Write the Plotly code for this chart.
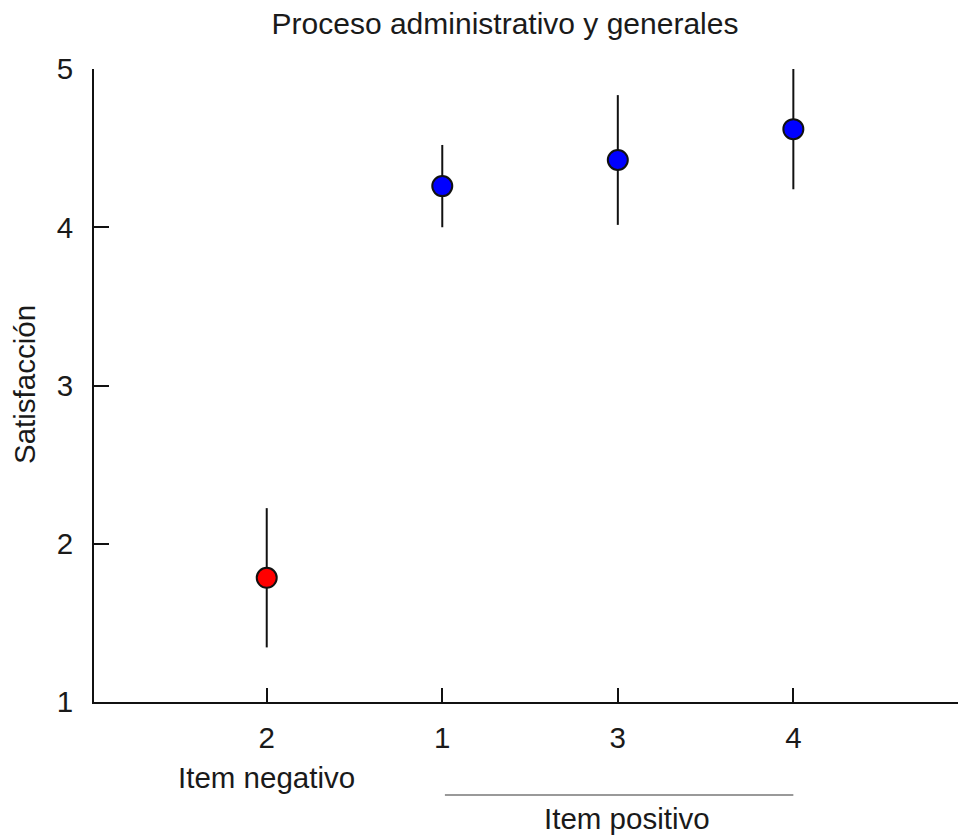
import plotly.graph_objects as go

# ---- data ----
items = ["2", "1", "3", "4"]
means = [1.785, 4.26, 4.425, 4.62]
errors = [0.44, 0.26, 0.41, 0.38]
groups = ["Item negativo", "Item positivo", "Item positivo", "Item positivo"]
group_colors = {"Item negativo": "#FF0000", "Item positivo": "#0000FF"}
title_text = "Proceso administrativo y generales"
y_title = "Satisfacción"
y_ticks = [1, 2, 3, 4, 5]

FONT = "Liberation Sans, Arial, sans-serif"
TXT = "#1a1a1a"
FS = 29.5

W, H = 958, 837
L, R, T, B = 94, 0, 69, 135
plot_h = H - T - B
plot_w = W - L - R


def py(px):
    """pixel row -> paper y"""
    return (H - B - px) / plot_h


def px_x(px):
    return (px - L) / plot_w


fig = go.Figure()
fig.add_trace(go.Scatter(
    x=items,
    y=means,
    mode="markers",
    error_y=dict(type="data", array=errors, visible=True, color="#111111",
                 thickness=2, width=0),
    marker=dict(size=20, color=[group_colors[g] for g in groups],
                line=dict(color="#111111", width=2)),
    showlegend=False,
    cliponaxis=False,
))

# group labels
neg_idx = [i for i, g in enumerate(groups) if g == "Item negativo"]
pos_idx = [i for i, g in enumerate(groups) if g == "Item positivo"]

fig.add_annotation(x=neg_idx[0], y=py(777), xref="x", yref="paper",
                   text="Item negativo", showarrow=False,
                   font=dict(family=FONT, size=FS, color=TXT),
                   xanchor="center", yanchor="middle")
fig.add_shape(type="line", xref="x", yref="paper",
              x0=min(pos_idx) + 0.015, x1=max(pos_idx), y0=py(795), y1=py(795),
              line=dict(color="#999999", width=2))
fig.add_annotation(x=(min(pos_idx) + max(pos_idx)) / 2 + 0.05, y=py(818),
                   xref="x", yref="paper",
                   text="Item positivo", showarrow=False,
                   font=dict(family=FONT, size=FS, color=TXT),
                   xanchor="center", yanchor="middle")

# y axis title
fig.add_annotation(x=px_x(24), y=py(385), xref="paper", yref="paper",
                   text=y_title, textangle=-90, showarrow=False,
                   font=dict(family=FONT, size=FS, color=TXT),
                   xanchor="center", yanchor="middle")

fig.update_layout(
    width=W, height=H,
    margin=dict(l=L, r=R, t=T, b=B, pad=0),
    paper_bgcolor="white", plot_bgcolor="white",
    font=dict(family=FONT, size=FS, color=TXT),
    title=dict(text=title_text, x=505 / W, y=1 - 23 / H, xref="container",
               yref="container", xanchor="center", yanchor="middle",
               font=dict(family=FONT, size=30, color=TXT)),
    showlegend=False,
)
fig.update_xaxes(
    type="category", categoryorder="array", categoryarray=items,
    range=[-0.984, 3.938],
    showline=True, linecolor="#111111", linewidth=2,
    ticks="inside", ticklen=14, tickwidth=2, tickcolor="#111111",
    showgrid=False, zeroline=False,
    tickfont=dict(family=FONT, size=FS, color=TXT),
    ticklabelstandoff=9,
)
fig.update_yaxes(
    range=[1, 5], tickvals=y_ticks,
    showline=True, linecolor="#111111", linewidth=2,
    ticks="inside", ticklen=15, tickwidth=2, tickcolor="#111111",
    showgrid=False, zeroline=False,
    tickfont=dict(family=FONT, size=FS, color=TXT),
    ticklabelstandoff=13,
)

fig.write_html("out.html")
